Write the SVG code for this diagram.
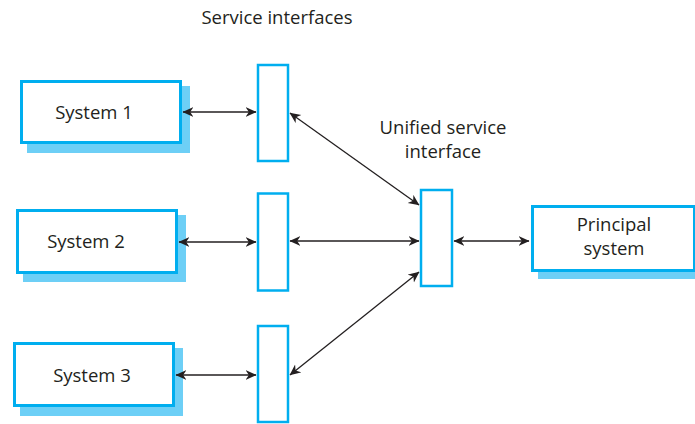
<svg xmlns="http://www.w3.org/2000/svg" width="695" height="424" viewBox="0 0 695 424">
<defs>
<style>
.box{fill:#fff;stroke:#00aeef;stroke-width:3}
.shadow{fill:#6dcff6}
.iface{fill:#fff;stroke:#00aeef;stroke-width:2.5}
.lbl{font-family:"Open Sans","Noto Sans",sans-serif;font-size:18.5px;fill:#231f20;text-anchor:middle}
.conn{stroke:#231f20;stroke-width:1.3;fill:none;marker-start:url(#ah);marker-end:url(#ah)}
</style>
<marker id="ah" viewBox="0 0 10 10" refX="9.5" refY="5" markerWidth="11" markerHeight="11" markerUnits="userSpaceOnUse" orient="auto-start-reverse">
<path d="M0,0.5 L10,5 L0,9.5 L3,5 Z" fill="#231f20"/>
</marker>
</defs>
<text class="lbl" x="277" y="24">Service interfaces</text>
<text class="lbl" x="443" y="134">Unified service</text>
<text class="lbl" x="443" y="158">interface</text>
<g id="system1">
<rect class="shadow" x="27" y="86" width="163" height="67"/>
<rect class="box" x="21.5" y="81.5" width="159" height="61"/>
<text class="lbl" x="94" y="119">System 1</text>
</g>
<g id="system2">
<rect class="shadow" x="23" y="215" width="163" height="67"/>
<rect class="box" x="17.5" y="210.5" width="159" height="62"/>
<text class="lbl" x="86" y="248">System 2</text>
</g>
<g id="system3">
<rect class="shadow" x="20" y="348" width="163" height="68"/>
<rect class="box" x="14.5" y="343.5" width="159" height="62"/>
<text class="lbl" x="92" y="382">System 3</text>
</g>
<g id="iface1"><rect class="iface" x="258" y="65" width="30" height="96"/></g>
<g id="iface2"><rect class="iface" x="258" y="193.5" width="30" height="97"/></g>
<g id="iface3"><rect class="iface" x="258" y="326" width="30" height="96"/></g>
<g id="unified"><rect class="iface" x="421" y="190" width="31" height="96"/></g>
<g id="principal">
<rect class="shadow" x="538" y="212" width="160" height="67"/>
<rect class="box" x="532.5" y="206.5" width="162" height="64"/>
<text class="lbl" x="614" y="231">Principal</text>
<text class="lbl" x="614" y="255">system</text>
</g>
<g id="connectors">
<line class="conn" x1="183" y1="112" x2="256" y2="112"/>
<line class="conn" x1="179" y1="242" x2="256" y2="242"/>
<line class="conn" x1="176" y1="375" x2="256" y2="375"/>
<line class="conn" x1="290" y1="113" x2="419" y2="205"/>
<line class="conn" x1="290" y1="241" x2="419" y2="241"/>
<line class="conn" x1="290" y1="375" x2="419" y2="272"/>
<line class="conn" x1="454" y1="241" x2="529" y2="241"/>
</g>
</svg>
